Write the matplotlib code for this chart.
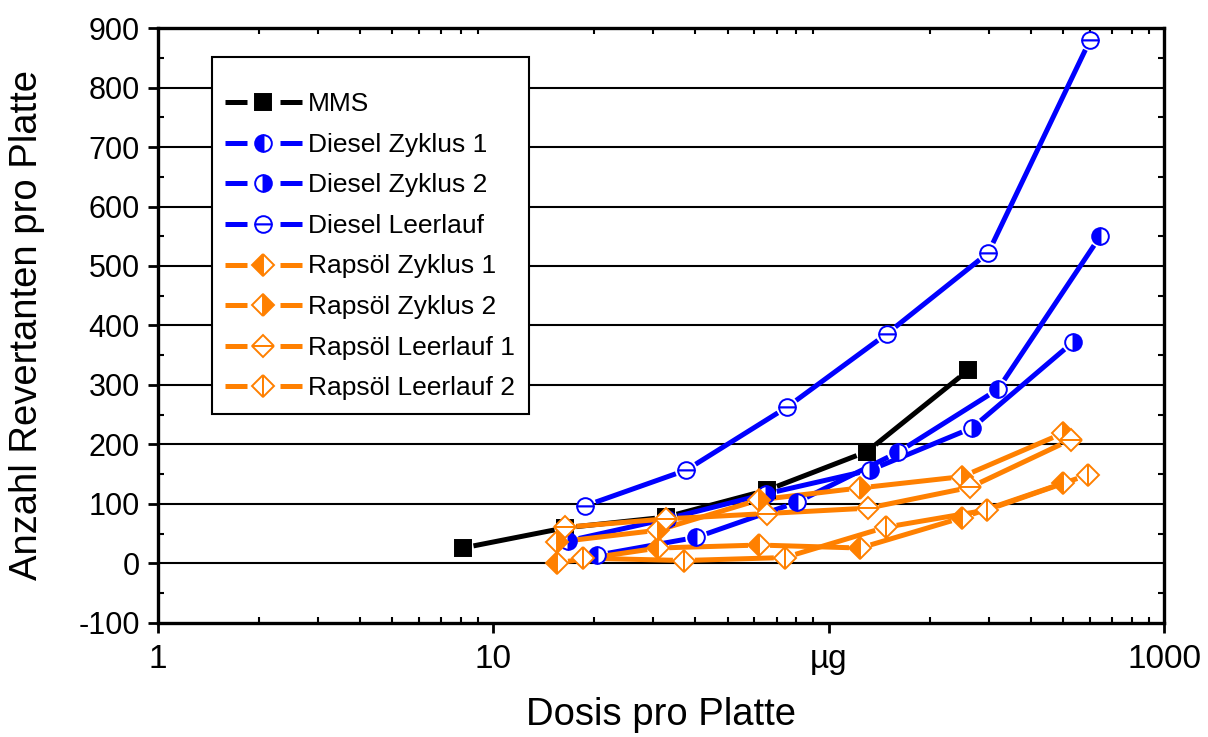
import matplotlib
matplotlib.use("Agg")
import matplotlib.pyplot as plt
from matplotlib.lines import Line2D
from matplotlib.legend_handler import HandlerBase
from matplotlib.ticker import FixedLocator, MultipleLocator, LogLocator, NullFormatter
import numpy as np

# dose (µg per plate) and revertant counts per series
mms_x = [8.1, 16.4, 32.7, 65.3, 130, 261]
mms_y = [26, 60, 78, 123, 188, 325]

dz1_x = [20.4, 40.3, 80.4, 161, 320, 645]
dz1_y = [14, 44, 103, 187, 293, 550]

dz2_x = [16.7, 33, 65, 133, 268, 535]
dz2_y = [38, 75, 117, 157, 228, 372]

dl_x = [18.8, 37.6, 75.2, 149, 299, 602]
dl_y = [97, 157, 263, 386, 522, 880]

rz1_x = [15.5, 31, 62, 124, 250, 500]
rz1_y = [1, 26, 31, 26, 77, 135]

rz2_x = [15.5, 31, 62, 124, 250, 500]
rz2_y = [36, 56, 107, 127, 146, 219]

rl1_x = [16.4, 32.8, 65.5, 131, 264, 527]
rl1_y = [61, 75, 84, 93, 128, 208]

rl2_x = [18.5, 37, 74, 148, 297, 592]
rl2_y = [9, 5, 10, 61, 90, 149]

xtick_vals = [1, 10, 100, 1000]
xtick_labels = ["1", "10", "µg", "1000"]

BLUE = "#0000ff"
ORANGE = "#ff8000"
plt.rcParams["font.family"] = ["Liberation Sans", "DejaVu Sans"]
plt.rcParams["axes.unicode_minus"] = False

series = [
    ("MMS", mms_x, mms_y, "black", "s", "full", "black", "black"),
    ("Diesel Zyklus 1", dz1_x, dz1_y, BLUE, "o", "left", BLUE, "white"),
    ("Diesel Zyklus 2", dz2_x, dz2_y, BLUE, "o", "right", BLUE, "white"),
    ("Diesel Leerlauf", dl_x, dl_y, BLUE, "o", "top", "white", "white"),
    ("Rapsöl Zyklus 1", rz1_x, rz1_y, ORANGE, "D", "left", ORANGE, "white"),
    ("Rapsöl Zyklus 2", rz2_x, rz2_y, ORANGE, "D", "right", ORANGE, "white"),
    ("Rapsöl Leerlauf 1", rl1_x, rl1_y, ORANGE, "D", "top", "white", "white"),
    ("Rapsöl Leerlauf 2", rl2_x, rl2_y, ORANGE, "D", "left", "white", "white"),
]

LW = 3.6
MEW = 1.4


class GapLineHandler(HandlerBase):
    """line - marker - line, with the line broken around the marker"""

    def create_artists(self, legend, orig_handle, xdescent, ydescent,
                       width, height, fontsize, trans):
        y = height / 2 - ydescent
        x0 = -xdescent
        x1 = x0 + width
        xc = (x0 + x1) / 2
        g = 0.5 * width * 0.42
        c = orig_handle.get_markeredgecolor()
        left = Line2D([x0, xc - g], [y, y], color=c, lw=LW, solid_capstyle="butt")
        right = Line2D([xc + g, x1], [y, y], color=c, lw=LW, solid_capstyle="butt")
        mk = Line2D([xc], [y], ls="none", marker=orig_handle.get_marker(),
                    fillstyle=orig_handle.get_fillstyle(),
                    markerfacecolor=orig_handle.get_markerfacecolor(),
                    markerfacecoloralt=orig_handle.get_markerfacecoloralt(),
                    markeredgecolor=c, markeredgewidth=MEW,
                    markersize=orig_handle.get_markersize())
        for a in (left, right, mk):
            a.set_transform(trans)
        return [left, right, mk]


fig = plt.figure(figsize=(12.08, 7.37), dpi=100)
ax = fig.add_axes([0.1308, 0.1547, 0.8328, 0.8073])
ax.set_xscale("log")
ax.set_xlim(1, 1000)
ax.set_ylim(-100, 900)


def gapped_line(x, y, color, gap=11):
    # line segments stop short of the markers
    pts = ax.transData.transform(np.column_stack([x, y]))
    inv = ax.transData.inverted()
    for p0, p1 in zip(pts[:-1], pts[1:]):
        d = p1 - p0
        length = np.hypot(d[0], d[1])
        if length <= 2 * gap:
            continue
        u = d / length
        seg = inv.transform(np.array([p0 + u * gap, p1 - u * gap]))
        ax.plot(seg[:, 0], seg[:, 1], color=color, lw=LW, solid_capstyle="butt", zorder=3)


handles = []
for name, x, y, color, marker, fs, fc, fcalt in series:
    gapped_line(x, y, color)
    ms = 11 if marker == "D" else 12
    pts, = ax.plot(x, y, ls="none", marker=marker, fillstyle=fs,
                   markerfacecolor=fc, markerfacecoloralt=fcalt,
                   markeredgecolor=color, markeredgewidth=MEW, markersize=ms, zorder=4)
    handles.append(pts)

# horizontal grid lines
for v in range(0, 900, 100):
    ax.axhline(v, color="black", lw=1.5, zorder=1)

leg = ax.legend(handles, [s[0] for s in series],
                handler_map={Line2D: GapLineHandler()},
                loc="upper left", bbox_to_anchor=(0.0537, 0.951), borderaxespad=0,
                handlelength=2.9, handleheight=1.2, handletextpad=0.25,
                labelspacing=0.5, borderpad=0.5, fancybox=False, framealpha=1,
                edgecolor="black", fontsize=19, title=" ", title_fontsize=4)
leg.get_frame().set_linewidth(1.5)
leg.set_zorder(5)

ax.xaxis.set_major_locator(FixedLocator(xtick_vals))
ax.set_xticklabels(xtick_labels, fontsize=24)
ax.xaxis.set_minor_locator(LogLocator(base=10, subs=np.arange(2, 10)))
ax.xaxis.set_minor_formatter(NullFormatter())
ax.yaxis.set_major_locator(MultipleLocator(100))
ax.yaxis.set_minor_locator(MultipleLocator(50))
for lab in ax.get_yticklabels():
    lab.set_fontsize(22)

ax.tick_params(which="major", direction="out", length=7, width=2, pad=6,
               top=False, right=False)
ax.tick_params(axis="x", which="major", pad=8)
ax.tick_params(which="minor", direction="in", length=4, width=1.5,
               top=True, right=True)

for sp in ax.spines.values():
    sp.set_linewidth(2.4)

ax.set_xlabel("Dosis pro Platte", fontsize=27.5)
ax.set_ylabel("Anzahl Revertanten pro Platte", fontsize=27.5)
ax.xaxis.set_label_coords(0.5, -0.125)
ax.yaxis.set_label_coords(-0.112, 0.5)

fig.savefig("out.png", dpi=100)
